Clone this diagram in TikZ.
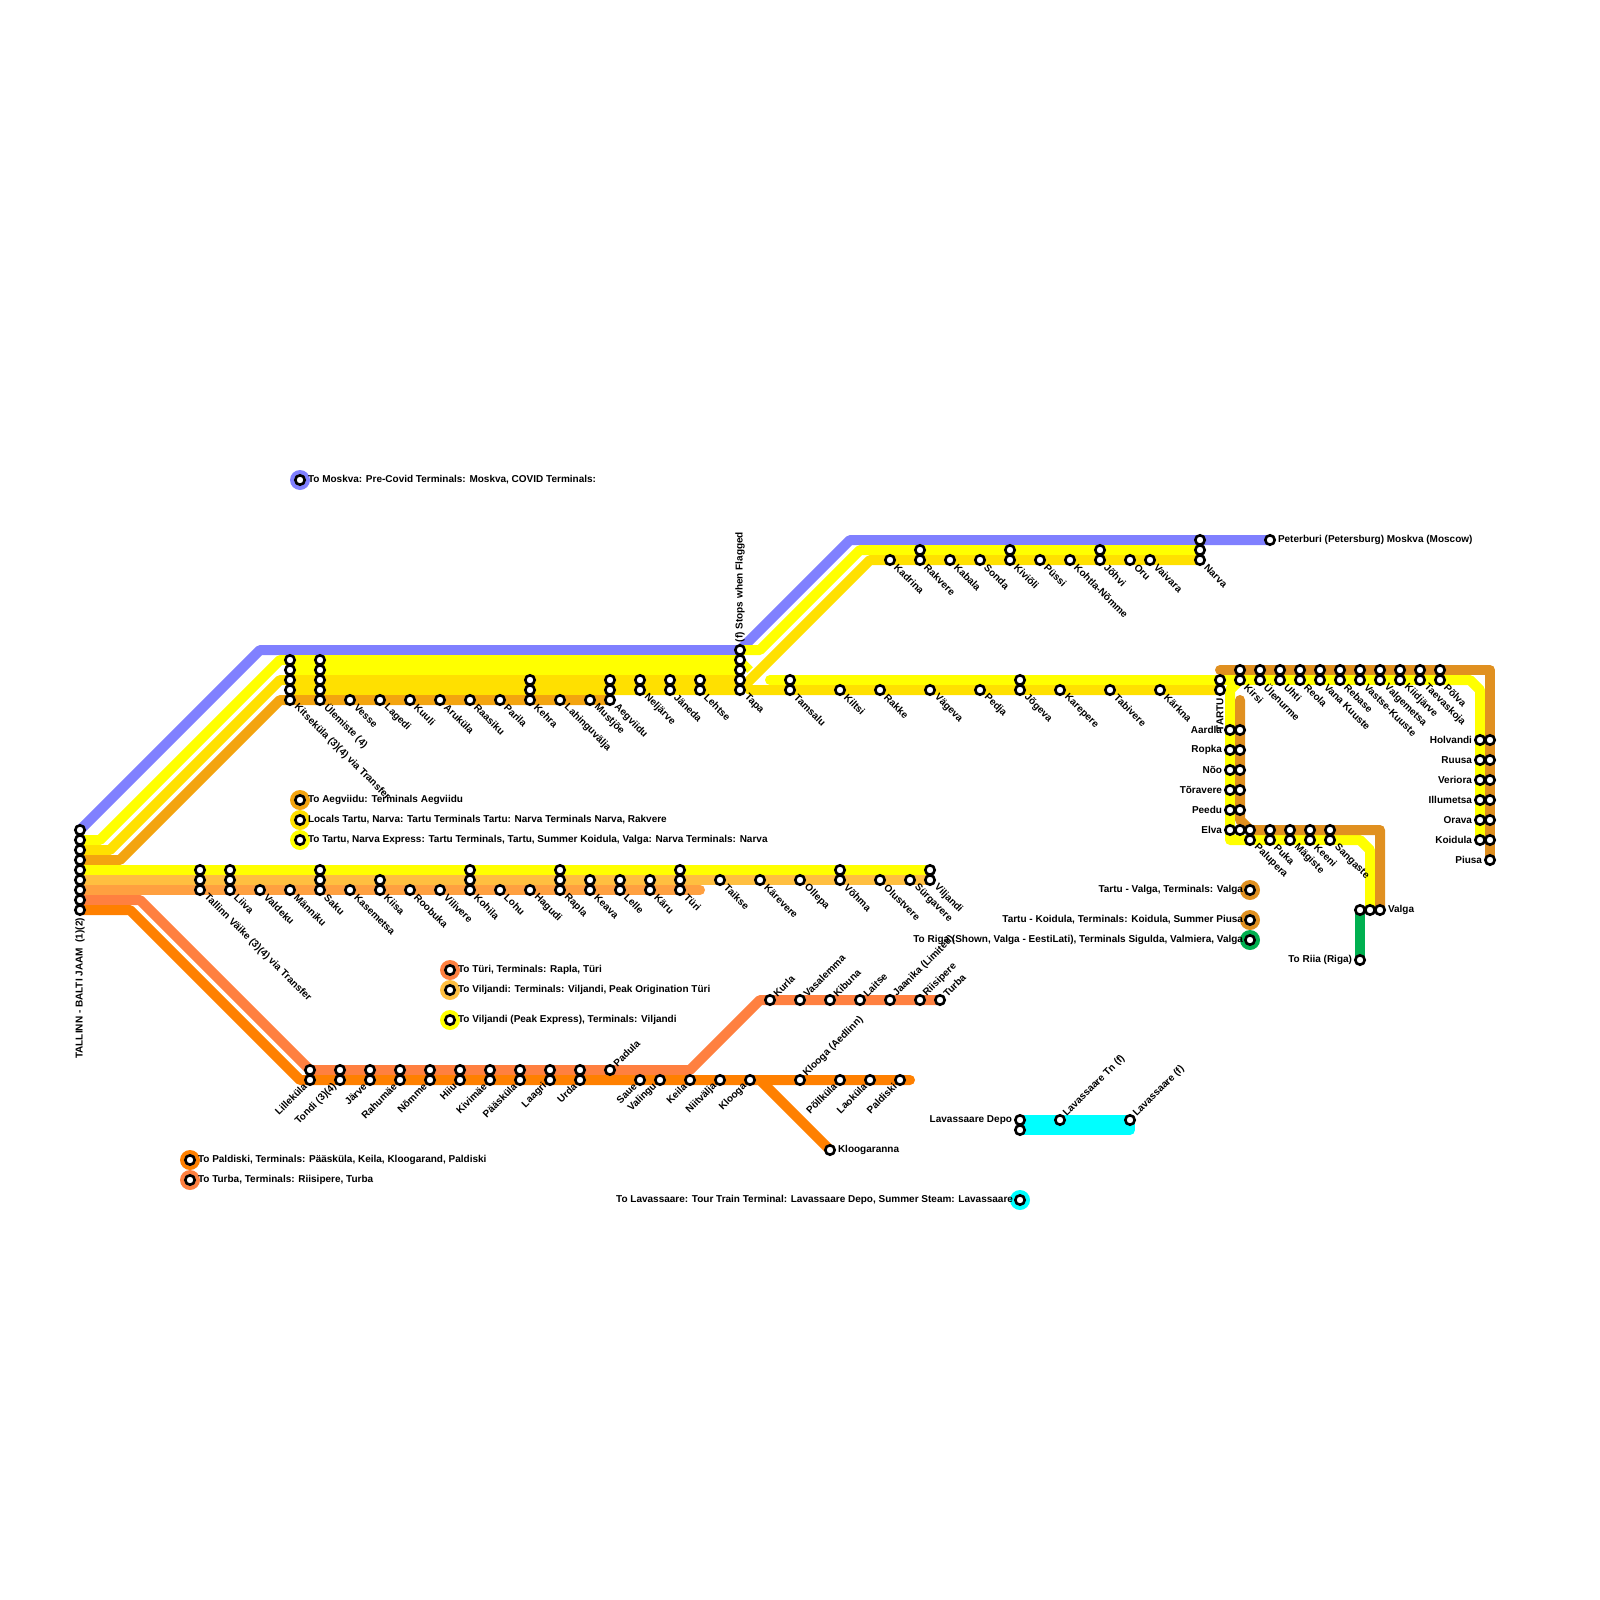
\documentclass[tikz,border=0pt]{standalone}
\usepackage{fontspec}
\setmainfont{Liberation Sans}
\usetikzlibrary{backgrounds}
\definecolor{cpurple}{HTML}{8080FF}
\definecolor{cyellow}{HTML}{FFFF00}
\definecolor{cgold}{HTML}{FFE000}
\definecolor{corange}{HTML}{F3A40F}
\definecolor{clight}{HTML}{FFBF40}
\definecolor{cpeach}{HTML}{FFA040}
\definecolor{ccoral}{HTML}{FF8040}
\definecolor{cdeep}{HTML}{FF8000}
\definecolor{cbrown}{HTML}{E09020}
\definecolor{cgreen}{HTML}{00B050}
\definecolor{ccyan}{HTML}{00FFFF}
\newcommand{\lblfont}{\bfseries\fontsize{10}{10}\selectfont}
\tikzset{
 stn/.style={circle,draw=black,line width=2.6pt,fill=white,minimum size=9.4pt,inner sep=0pt,outer sep=0pt},
 txt/.style={font=\lblfont,inner sep=0pt,outer sep=0pt,text=black},
 lse/.style={txt,rotate=-45,anchor=west},
 lne/.style={txt,rotate=45,anchor=west},
 lsw/.style={txt,rotate=45,anchor=east},
 lw/.style={txt,anchor=east},
 le/.style={txt,anchor=west},
 rail/.style={line width=10pt,line join=round,line cap=butt},
 halo/.style={circle,fill=#1,minimum size=20pt,inner sep=0pt,outer sep=0pt},
}
\begin{document}
\begin{tikzpicture}[x=1pt,y=-1pt]
\useasboundingbox (0,0) rectangle (1600,1600);
% unlabelled stations
\foreach \xx/\yy in {
 80/830,80/840,80/850,80/860,80/870,80/880,80/890,80/900,80/910,
 290/660,290/670,290/680,290/690,320/660,320/670,320/680,320/690,
 530/680,530/690,610/680,610/690,640/680,670/680,700/680,
 740/660,740/670,740/680,790/680,1020/680,
 920/550,1010/550,1100/550,1200/540,1200/550,
 1220/680,1240/670,1260/670,1280/670,1300/670,1320/670,1340/670,1360/670,1380/670,1400/670,1420/670,1440/670,
 1240/730,1240/750,1240/770,1240/790,1240/810,1240/830,1250/830,
 1270/830,1290/830,1310/830,1330/830,
 1490/740,1490/760,1490/780,1490/800,1490/820,1490/840,
 1370/910,1360/910,
 200/870,200/880,230/870,230/880,320/870,320/880,380/880,470/870,470/880,560/870,560/880,
 590/880,620/880,650/880,680/870,680/880,840/870,930/870,
 310/1070,340/1070,370/1070,400/1070,430/1070,460/1070,490/1070,520/1070,550/1070,580/1070,
 1020/1130}
 {\node[stn] (s\xx x\yy) at (\xx,\yy) {};}
% south-east labels
\foreach \xx/\yy/\lb in {
 290/700/Kitseküla (3)(4) via Transfer,320/700/Ülemiste (4),350/700/Vesse,380/700/Lagedi,410/700/Kuuli,440/700/Aruküla,470/700/Raasiku,500/700/Parila,530/700/Kehra,560/700/Lahinguvälja,590/700/Mustjõe,610/700/Aegviidu,
 640/690/Neljärve,670/690/Jäneda,700/690/Lehtse,740/690/Tapa,790/690/Tamsalu,840/690/Kiltsi,880/690/Rakke,930/690/Vägeva,980/690/Pedja,1020/690/Jõgeva,1060/690/Karepere,1110/690/Tabivere,1160/690/Kärkna,
 890/560/Kadrina,920/560/Rakvere,950/560/Kabala,980/560/Sonda,1010/560/Kiviõli,1040/560/Püssi,1070/560/Kohtla-Nõmme,1100/560/Jõhvi,1130/560/Oru,1150/560/Vaivara,1200/560/Narva,
 1240/680/Kirsi,1260/680/Ülenurme,1280/680/Uhti,1300/680/Reola,1320/680/Vana Kuuste,1340/680/Rebase,1360/680/Vastse-Kuuste,1380/680/Valgemetsa,1400/680/Kiidjärve,1420/680/Taevaskoja,1440/680/Põlva,
 1250/840/Palupera,1270/840/Puka,1290/840/Mägiste,1310/840/Keeni,1330/840/Sangaste,
 200/890/Tallinn Väike (3)(4) via Transfer,230/890/Liiva,260/890/Valdeku,290/890/Männiku,320/890/Saku,350/890/Kasemetsa,380/890/Kiisa,410/890/Roobuka,440/890/Vilivere,470/890/Kohila,500/890/Lohu,530/890/Hagudi,560/890/Rapla,590/890/Keava,620/890/Lelle,650/890/Käru,680/890/Türi,
 720/880/Taikse,760/880/Kärevere,800/880/Ollepa,840/880/Võhma,880/880/Olustvere,910/880/Sürgavere,930/880/Viljandi}
 {\node[stn] (s\xx x\yy) at (\xx,\yy) {};
  \node[lse] (t\xx x\yy) at (\xx+6,\yy+6) {\lb};}
% north-east labels
\foreach \xx/\yy/\lb in {
 610/1070/Padula,770/1000/Kurla,800/1000/Vasalemma,830/1000/Kibuna,860/1000/Laitse,890/1000/Jaanika (Limited),920/1000/Riisipere,940/1000/Turba,800/1080/Klooga (Aedlinn),1060/1120/Lavassaare Tn (f),1130/1120/Lavassaare (f)}
 {\node[stn] (s\xx x\yy) at (\xx,\yy) {};
  \node[lne] (t\xx x\yy) at (\xx+5,\yy-5) {\lb};}
% south-west labels
\foreach \xx/\yy/\lb in {
 310/1080/Lilleküla,340/1080/Tondi (3)(4),370/1080/Järve,400/1080/Rahumäe,430/1080/Nõmme,460/1080/Hiiu,490/1080/Kivimäe,520/1080/Pääsküla,550/1080/Laagri,580/1080/Urda,640/1080/Saue,660/1080/Valingu,690/1080/Keila,720/1080/Niitvälja,750/1080/Klooga,840/1080/Põllküla,870/1080/Laoküla,900/1080/Paldiski}
 {\node[stn] (s\xx x\yy) at (\xx,\yy) {};
  \node[lsw] (t\xx x\yy) at (\xx-5,\yy+5) {\lb};}
% west labels
\foreach \xx/\yy/\lb in {
 1230/730/Aardla,1230/750/Ropka,1230/770/Nõo,1230/790/Tõravere,1230/810/Peedu,1230/830/Elva,
 1480/740/Holvandi,1480/760/Ruusa,1480/780/Veriora,1480/800/Illumetsa,1480/820/Orava,1480/840/Koidula,1490/860/Piusa,
 1360/960/To Riia (Riga),1020/1120/Lavassaare Depo}
 {\node[stn] (s\xx x\yy) at (\xx,\yy) {};
  \node[lw] (t\xx x\yy) at (\xx-8,\yy) {\lb};}
% east labels
\foreach \xx/\yy/\lb in {
 1270/540/Peterburi (Petersburg) Moskva (Moscow),1380/910/Valga,830/1150/Kloogaranna}
 {\node[stn] (s\xx x\yy) at (\xx,\yy) {};
  \node[le] (t\xx x\yy) at (\xx+8,\yy) {\lb};}
% rotated labels
\node[stn] (s740x650) at (740,650) {};
\node[stn] (s1220x690) at (1220,690) {};
\node[txt,rotate=90,anchor=west] (tflag) at (740,642) {(f) Stops when Flagged};
\node[txt,rotate=90,anchor=east] (ttartu) at (1220,698) {TARTU};
\node[txt,rotate=90,anchor=east] (tbalti) at (80,918) {TALLINN - BALTI JAAM\ \ (1)(2)};
% legends with text on the right
\foreach \xx/\yy/\cc/\lb in {
 300/480/cpurple/{To Moskva: Pre-Covid Terminals: Moskva, COVID Terminals:},
 300/800/corange/{To Aegviidu: Terminals Aegviidu},
 300/820/cgold/{Locals Tartu, Narva: Tartu Terminals Tartu: Narva Terminals Narva, Rakvere},
 300/840/cyellow/{To Tartu, Narva Express: Tartu Terminals, Tartu, Summer Koidula, Valga: Narva Terminals: Narva},
 450/970/ccoral/{To Türi, Terminals: Rapla, Türi},
 450/990/clight/{To Viljandi: Terminals: Viljandi, Peak Origination Türi},
 450/1020/cyellow/{To Viljandi (Peak Express), Terminals: Viljandi},
 190/1160/cdeep/{To Paldiski, Terminals: Pääsküla, Keila, Kloogarand, Paldiski},
 190/1180/ccoral/{To Turba, Terminals: Riisipere, Turba}}
 {\node[halo=\cc] (h\xx x\yy) at (\xx,\yy) {};
  \node[stn] (s\xx x\yy) at (\xx,\yy) {};
  \node[le] (t\xx x\yy) at (\xx+8,\yy) {\lb};}
% legends with text on the left
\foreach \xx/\yy/\cc/\lb in {
 1250/890/cbrown/{Tartu - Valga, Terminals: Valga},
 1250/920/cbrown/{Tartu - Koidula, Terminals: Koidula, Summer Piusa},
 1250/940/cgreen/{To Riga (Shown, Valga - EestiLati), Terminals Sigulda, Valmiera, Valga},
 1020/1200/ccyan/{To Lavassaare: Tour Train Terminal: Lavassaare Depo, Summer Steam: Lavassaare}}
 {\node[halo=\cc] (h\xx x\yy) at (\xx,\yy) {};
  \node[stn] (s\xx x\yy) at (\xx,\yy) {};
  \node[lw] (t\xx x\yy) at (\xx-7,\yy) {\lb};}
% bend points and free ends
\foreach \nn/\xx/\yy in {
 pa/260/650,pb/850/540,
 ya/100/840,yb/280/660,yc/760/650,yd/860/550,ye/750/670,yf/770/680,
 ga/110/850,gb/280/680,gc/870/560,gd/750/690,
 oa/120/860,ob/280/700,
 pe/700/890,
 ca/140/900,cb/690/1070,cc/760/1000,
 da/130/910,db/300/1080,dc/910/1080,dd/760/1080,
 ba/1220/670,bb/1490/670,bc/1240/700,bd/1240/820,be/1380/830,
 ea/1240/680,eb/1470/680,ec/1480/690,ed/1230/690,ee/1230/840,ef/1360/840,eg/1370/850,
 la/1130/1130}
 {\coordinate (\nn) at (\xx,\yy);}
\begin{pgfonlayer}{background}
% northern trunk
\draw[rail,cpurple] (s80x830.center) -- (pa) -- (s740x650.center) -- (pb) -- (s1270x540.center);
\draw[rail,cyellow] (s80x840.center) -- (ya) -- (yb) -- (s740x660.center);
\draw[rail,cyellow] (s290x670.center) -- (s740x670.center);
\draw[rail,cyellow] (s740x650.center) -- (yc) -- (yd) -- (s1200x550.center);
\draw[rail,cyellow,line width=8pt] (s740x660.center) -- (ye);
\draw[rail,cgold] (s80x850.center) -- (ga) -- (gb) -- (s740x680.center) -- (gd) -- (s1220x690.center);
\draw[rail,cgold] (s290x690.center) -- (s740x690.center) -- (gc) -- (s1200x560.center);
\draw[rail,cyellow,line cap=round] (yf) -- (s1220x680.center);
\draw[rail,corange] (s80x860.center) -- (oa) -- (ob) -- (s610x700.center);
% southern trunk
\draw[rail,cyellow] (s80x870.center) -- (s930x870.center);
\draw[rail,clight] (s80x880.center) -- (s930x880.center);
\draw[rail,cpeach,line cap=round] (s80x890.center) -- (pe);
\draw[rail,ccoral] (s80x900.center) -- (ca) -- (s310x1070.center) -- (cb) -- (cc) -- (s940x1000.center);
\draw[rail,cdeep,line cap=round] (s80x910.center) -- (da) -- (db) -- (dc);
\draw[rail,cdeep] (dd) -- (s830x1150.center);
% Tartu and branches
\draw[rail,cyellow] (s1220x680.center) -- (ea) -- (ed) -- (ee) -- (ef) -- (eg) -- (s1370x910.center);
\draw[rail,cyellow] (ea) -- (eb) -- (ec) -- (s1480x840.center);
\draw[rail,cbrown,line cap=round] (ba) -- (bb) -- (s1490x860.center);
\draw[rail,cbrown,line cap=round] (bc) -- (bd) -- (s1250x830.center) -- (be) -- (s1380x910.center);
\draw[rail,cgreen] (s1360x910.center) -- (s1360x960.center);
\draw[rail,ccyan] (s1020x1120.center) -- (s1130x1120.center) -- (la) -- (s1020x1130.center);
\end{pgfonlayer}
\end{tikzpicture}
\end{document}
